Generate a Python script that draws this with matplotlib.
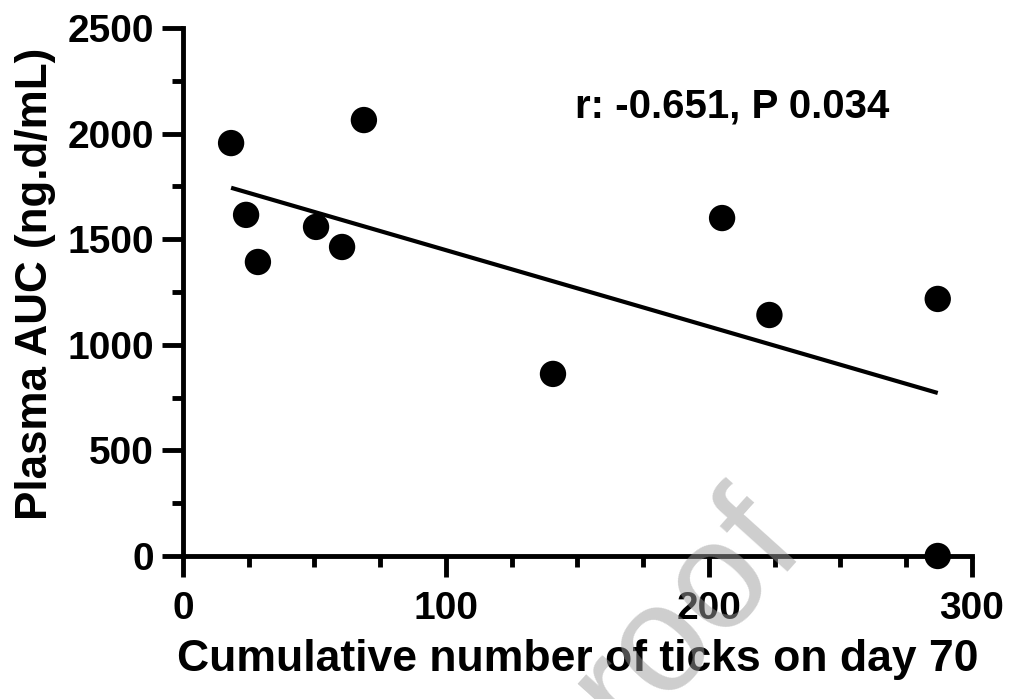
import numpy as np
import matplotlib.pyplot as plt
from matplotlib.ticker import MultipleLocator

# Data
ticks_day70 = [18.3, 24.0, 28.5, 50.6, 60.5, 68.8, 140.7, 205.0, 223.0, 287.0, 287.0]
plasma_auc = [1955, 1615, 1392, 1558, 1463, 2064, 862, 1600, 1141, 1217, 0]

x_ticks = [0, 100, 200, 300]
y_ticks = [0, 500, 1000, 1500, 2000, 2500]

stats_label = "r: -0.651, P 0.034"
x_label = "Cumulative number of ticks on day 70"
y_label = "Plasma AUC (ng.d/mL)"
watermark = "Journal Pre-proof"


def main():
    plt.rcParams['font.family'] = ['Liberation Sans', 'DejaVu Sans']
    plt.rcParams['font.weight'] = 'bold'

    fig = plt.figure(figsize=(10.12, 6.99), dpi=100)
    ax = fig.add_axes([0.1808, 0.2046, 0.7796, 0.7554])

    x = np.array(ticks_day70)
    y = np.array(plasma_auc)

    # linear fit across the data range
    slope, intercept = np.polyfit(x, y, 1)
    xs = np.array([x.min(), x.max()])
    ax.plot(xs, slope * xs + intercept, color='black', lw=3.0,
            solid_capstyle='butt', zorder=2)

    ax.scatter(x, y, s=360, color='black', edgecolors='none',
               clip_on=False, zorder=3)

    ax.set_xlim(0, 300)
    ax.set_ylim(0, 2500)
    ax.set_xticks(x_ticks)
    ax.set_yticks(y_ticks)
    ax.xaxis.set_minor_locator(MultipleLocator(25))
    ax.yaxis.set_minor_locator(MultipleLocator(250))

    for side in ['top', 'right']:
        ax.spines[side].set_visible(False)
    for side in ['left', 'bottom']:
        ax.spines[side].set_linewidth(3.5)

    ax.tick_params(which='major', length=15, width=3.5, labelsize=28)
    ax.tick_params(which='minor', length=8, width=3.5)
    ax.tick_params(axis='x', which='major', pad=10)
    ax.tick_params(axis='y', which='major', pad=6)
    for lbl in ax.get_xticklabels() + ax.get_yticklabels():
        lbl.set_fontweight('bold')

    ax.set_xlabel(x_label, fontsize=32, fontweight='bold', labelpad=9)
    ax.set_ylabel(y_label, fontsize=31.7, fontweight='bold', labelpad=8)
    ax.yaxis.label.set_y(0.515)

    ax.text(149, 2074, stats_label, fontsize=29, fontweight='bold',
            ha='left', va='baseline')

    # faint diagonal watermark
    fig.text(808 / 1012, 1 - 550 / 699, watermark, fontsize=110,
             fontweight='normal', color='#9d9d9d', alpha=0.5,
             rotation=48, rotation_mode='anchor', ha='right', va='baseline',
             zorder=10)

    fig.savefig("out.png", dpi=100)


if __name__ == "__main__":
    main()
